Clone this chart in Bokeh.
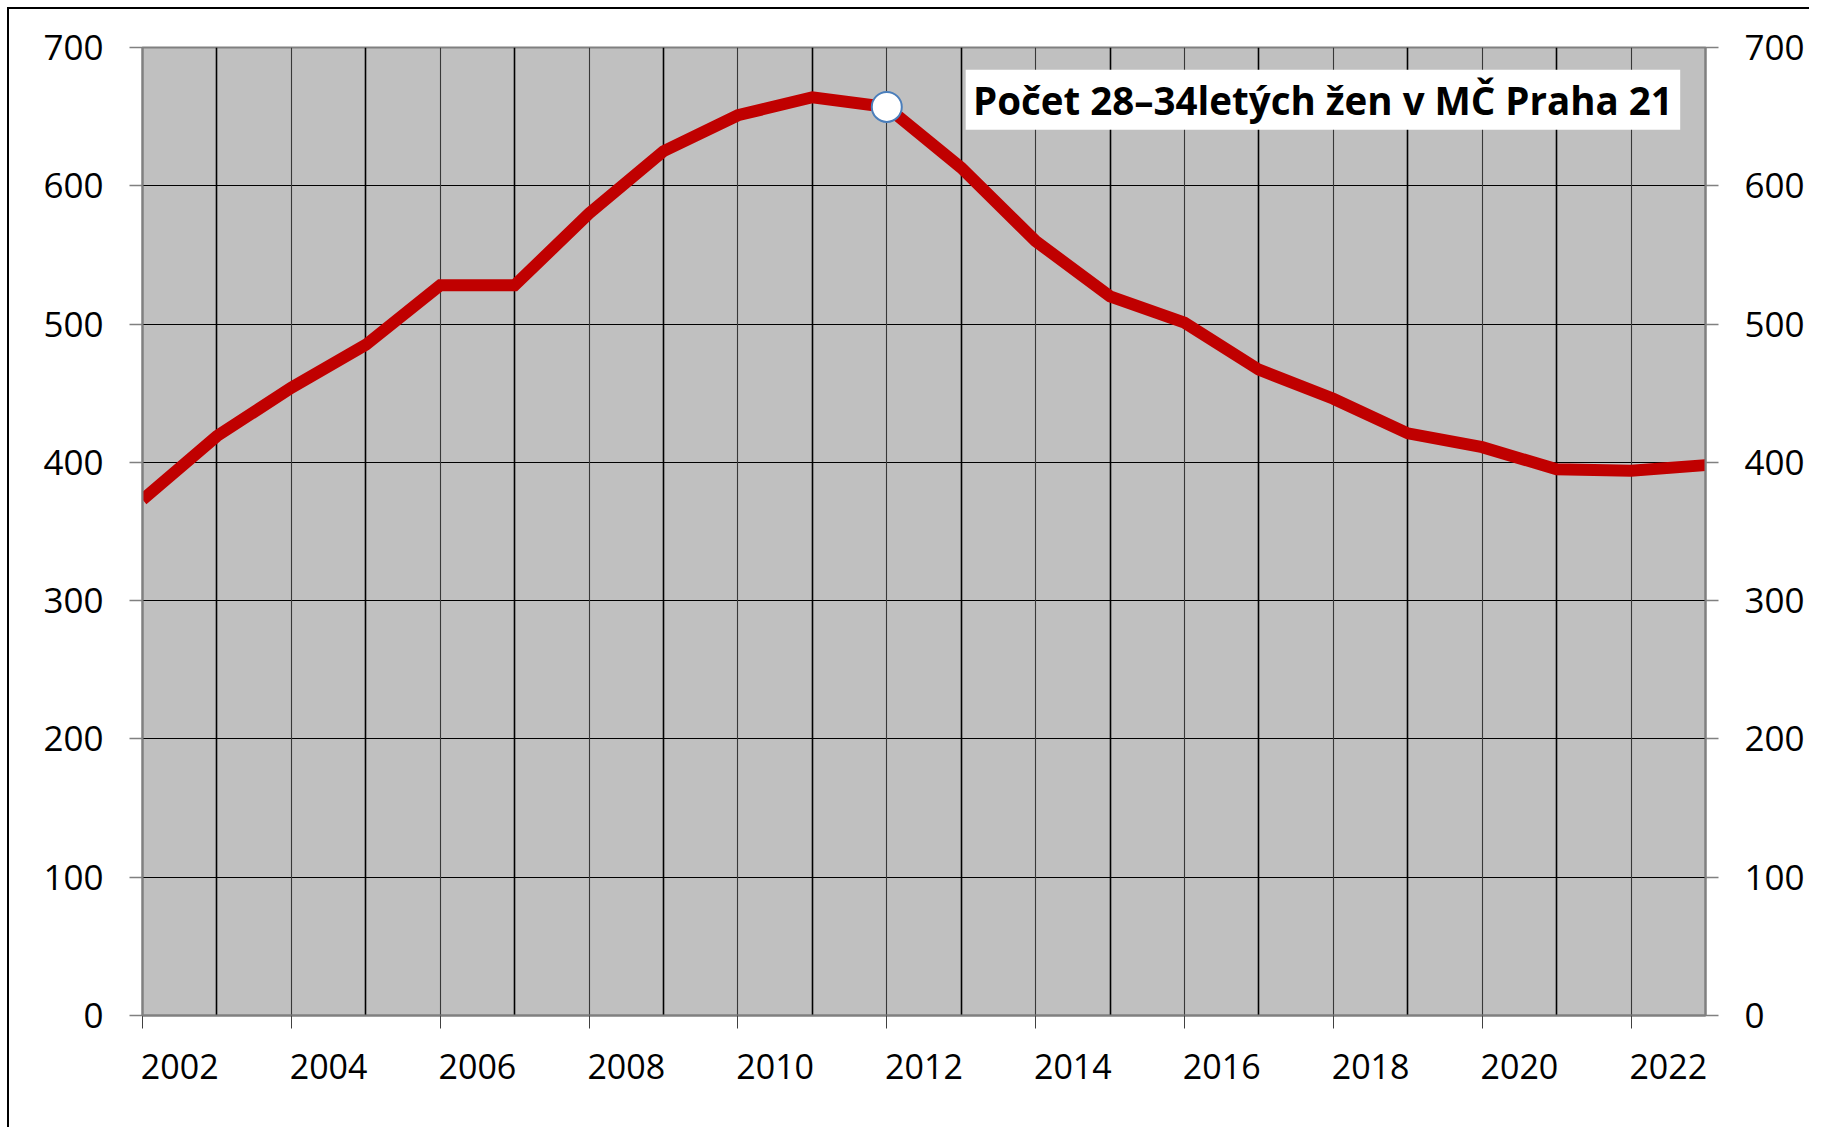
from bokeh.plotting import figure
from bokeh.models import (Range1d, LinearAxis, FixedTicker, Grid, Label,
                          BoxAnnotation, ColumnDataSource)
from bokeh.embed import file_html
from bokeh.resources import INLINE

# ---- data ----
years = list(range(2002, 2024))
women = [373, 419, 454, 485, 528, 528, 580, 625, 651, 664, 657, 613,
         560, 520, 501, 467, 446, 421, 411, 395, 394, 398]
highlight_year = [2012]
highlight_value = [657]
tick_years = list(range(2002, 2023, 2))
label_years = [y + 0.5 for y in tick_years]
year_labels = {y + 0.5: str(y) for y in tick_years}
y_ticks = list(range(0, 701, 100))
title_text = "Počet 28–34letých žen v MČ Praha 21"

FONT = "Open Sans"

W, H = 1802, 1120
p = figure(width=W, height=H, output_backend="svg", toolbar_location=None,
           x_range=Range1d(2002, 2023), y_range=Range1d(0, 700),
           min_border_left=133, min_border_right=106,
           min_border_top=38, min_border_bottom=114,
           x_axis_location=None, y_axis_location=None)
p.styles = {"border-left": "2px solid #000", "border-top": "2px solid #000",
            "margin-left": "7px", "margin-top": "7px"}
p.background_fill_color = "#C0C0C0"
p.border_fill_color = "white"
p.outline_line_color = "#808080"
p.outline_line_width = 2
p.xgrid.visible = False
p.ygrid.visible = False

# bottom axis: labels between years, ticks at even years (minor ticks)
xax = LinearAxis(ticker=FixedTicker(ticks=label_years, minor_ticks=tick_years),
                 major_label_overrides=year_labels)
xax.major_tick_line_color = None
xax.major_tick_out = 13
xax.major_tick_in = 0
xax.minor_tick_out = 13
xax.minor_tick_in = 0
xax.minor_tick_line_color = "#404040"
xax.minor_tick_line_width = 1
xax.axis_line_color = "#808080"
xax.axis_line_width = 2
xax.major_label_text_font = FONT
xax.major_label_text_font_size = "34px"
xax.major_label_text_color = "black"
xax.major_label_standoff = 25
p.add_layout(xax, "below")

for side in ("left", "right"):
    ax = LinearAxis(ticker=FixedTicker(ticks=y_ticks))
    ax.major_tick_out = 13
    ax.major_tick_in = 0
    ax.minor_tick_line_color = None
    ax.major_tick_line_color = "#808080"
    ax.major_tick_line_width = 1.5
    ax.axis_line_color = "#808080"
    ax.axis_line_width = 2
    ax.major_label_text_font = FONT
    ax.major_label_text_font_size = "35px"
    ax.major_label_text_color = "black"
    ax.major_label_standoff = 26
    p.add_layout(ax, side)

# grids
p.add_layout(Grid(dimension=1, ticker=FixedTicker(ticks=y_ticks[1:-1]),
                  grid_line_color="black", grid_line_width=1.2))
p.add_layout(Grid(dimension=0, ticker=FixedTicker(ticks=list(range(2003, 2023, 2))),
                  grid_line_color="black", grid_line_width=1.6))
p.add_layout(Grid(dimension=0, ticker=FixedTicker(ticks=list(range(2004, 2023, 2))),
                  grid_line_color="#383838", grid_line_width=1.1))

src = ColumnDataSource(dict(x=years, y=women))
p.line("x", "y", source=src, line_color="#C00000", line_width=12,
       line_join="miter")
p.scatter(highlight_year, highlight_value, size=30, fill_color="white",
          line_color="#4A7EBB", line_width=2)

# title box
p.add_layout(BoxAnnotation(left=2013.06, right=2022.66, bottom=640.6, top=684.0,
                           fill_color="white", fill_alpha=1, line_color=None,
                           level="annotation"))
p.add_layout(Label(x=2017.86, y=662.3, text=title_text, text_align="center",
                   text_baseline="middle", text_font=FONT,
                   text_font_style="bold", text_font_size="38.5px",
                   text_color="black"))

open("out.html", "w").write(file_html(p, INLINE))
